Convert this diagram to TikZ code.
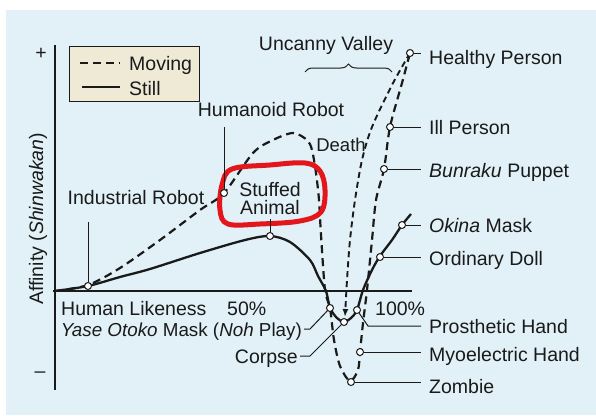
\documentclass[tikz,border=0pt]{standalone}
\usepackage{fontspec}
\setmainfont{Liberation Sans}
\usetikzlibrary{decorations.pathreplacing,arrows.meta}
\definecolor{bgblue}{HTML}{E2F1F8}
\definecolor{keybg}{HTML}{EEEAD6}
\definecolor{ink}{HTML}{1A1A1A}
\definecolor{marker}{HTML}{E3161B}

\begin{document}
\begin{tikzpicture}[x=1pt,y=-1pt,font=\fontsize{19.5}{18}\selectfont,text=ink,
    dot/.style={circle,draw=ink,fill=white,line width=1pt,inner sep=0pt,minimum size=7pt},
    lbl/.style={inner sep=0pt,text height=14pt,text depth=0pt},
    rlbl/.style={lbl,anchor=west,inner xsep=8pt},
    lead/.style={draw=ink,line width=1pt},
    moving/.style={ink,line width=2.2pt,dash pattern=on 8pt off 5pt},
    still/.style={ink,line width=2.3pt},
    death/.style={ink,line width=1.9pt,dash pattern=on 6pt off 4pt}]
    \useasboundingbox (0,0) rectangle (596,415);
    \fill[bgblue] (6,10) rectangle (596,415);

    % key
    \node[draw=ink,fill=keybg,line width=1pt,minimum width=130pt,minimum height=55pt,inner sep=0pt] at (134,73.5) (key) {};
    \draw[moving] (80,63) -- (120,63);
    \draw[still] (82,87) -- (120,87);
    \node[lbl,anchor=west] at (129,63) (mov) {Moving};
    \node[lbl,anchor=west] at (129,88) (stl) {Still};

    % axes
    \draw[ink,line width=2pt] (55,45) -- (55,390);
    \draw[ink,line width=2pt] (53,291) -- (412,291);
    \node at (41,54) (plus) {+};
    \node at (40,375) (minus) {--};
    \node[rotate=90] at (38,219) (aff) {Affinity (\textit{Shinwakan})};
    \node[lbl,anchor=west] at (61,308) (hl) {Human Likeness};
    \node[lbl,anchor=west] at (227,308) (half) {50\%};
    \node[lbl,anchor=west] at (375,308) (full) {100\%};

    % curves
    \draw[still] plot[smooth] coordinates {(55,291) (88,286) (120,277) (150,269) (200,253)
        (245,240) (270,236) (290,242) (310,260) (318,276) (326,291) (330,308) (337,318)
        (344,322) (351,318) (357,310) (363,290) (372,270) (380,256) (392,240) (402,225) (411,214)};
    \draw[moving] plot[smooth] coordinates {(55,291) (88,285) (120,268) (160,240) (200,210)
        (224,193) (253,153) (273,140) (293,133) (307,140) (312,150) (316,173) (319,200)
        (321,235) (325,290) (330,308) (334,340) (340,366) (350,381) (358,370) (360,352)
        (363,323) (367,290) (372,240) (376,200) (384,169) (390,127) (402,83) (410,53)};
    \draw[death,-{Latex[length=8pt,width=6pt]}] plot[smooth] coordinates {(410,53) (392,85)
        (372,127) (362,160) (355,200) (350,240) (347,280) (345,317)};

    % red mark
    \draw[marker,line width=5pt,line join=round] plot[smooth cycle,tension=0.6] coordinates {
        (232,169) (270,165) (305,163) (320,171) (325,190) (321,212) (300,221)
        (260,224) (228,224) (220,210) (222,185)};

    % markers
    \node[dot] at (88,286) (ir) {};
    \node[dot] at (224,193) (hr) {};
    \node[dot] at (270,236) (sa) {};
    \node[dot] at (410,53) (hp) {};
    \node[dot] at (390,127) (ip) {};
    \node[dot] at (384,169) (bp) {};
    \node[dot] at (402,225) (ok) {};
    \node[dot] at (380,257) (od) {};
    \node[dot] at (357,310) (ph) {};
    \node[dot] at (360,352) (mh) {};
    \node[dot] at (351,382) (zb) {};
    \node[dot] at (330,308) (yo) {};
    \node[dot] at (344,322) (cp) {};

    % labels
    \node at (136,198) (irl) {Industrial Robot};
    \node at (271,110) (hrl) {Humanoid Robot};
    \node[align=center,inner sep=0pt,inner ysep=4pt] at (270,199) (sal) {Stuffed\\Animal};
    \node[font=\fontsize{18.5}{18}\selectfont] at (341,145) (dth) {Death};
    \node at (326,45) (uv) {Uncanny Valley};
    \node[rlbl] at (421,57) (hpl) {Healthy Person};
    \node[rlbl] at (421,127) (ipl) {Ill Person};
    \node[rlbl] at (421,170) (bpl) {\textit{Bunraku} Puppet};
    \node[rlbl] at (421,225) (okl) {\textit{Okina} Mask};
    \node[rlbl] at (421,258) (odl) {Ordinary Doll};
    \node[rlbl] at (421,326) (phl) {Prosthetic Hand};
    \node[rlbl] at (421,354) (mhl) {Myoelectric Hand};
    \node[rlbl] at (421,386) (zbl) {Zombie};
    \node[lbl,anchor=east,font=\fontsize{18.8}{18}\selectfont] at (302,329) (yol) {\textit{Yase Otoko} Mask (\textit{Noh} Play)};
    \node[lbl,anchor=east] at (298,356) (cpl) {Corpse};
    \coordinate (irtop) at (88,222);
    \coordinate (hrtop) at (224,127);

    \draw[decorate,decoration={brace,amplitude=8pt},ink,line width=1pt] (305,72) -- (392,72);
    \draw[lead] (ir) -- (irtop);
    \draw[lead] (hr) -- (hrtop);
    \draw[lead] (sa) -- (sa |- sal.south);
    \draw[lead] (hp) -- (hp -| hpl.west);
    \draw[lead] (ip) -- (ip -| ipl.west);
    \draw[lead] (bp) -- (bp -| bpl.west);
    \draw[lead] (ok) -- (ok -| okl.west);
    \draw[lead] (od) -- (od -| odl.west);
    \draw[lead] (ph) -- ++(11,16) -- (phl.west);
    \draw[lead] (mh) -- (mh -| mhl.west);
    \draw[lead] (zb) -- (zb -| zbl.west);
    \draw[lead,shorten >=2pt] (yo) -- ++(-20,21) -- (yol.east);
    \draw[lead,shorten >=2pt] (cp) -- ++(-34,34) -- (cpl.east);
\end{tikzpicture}
\end{document}
